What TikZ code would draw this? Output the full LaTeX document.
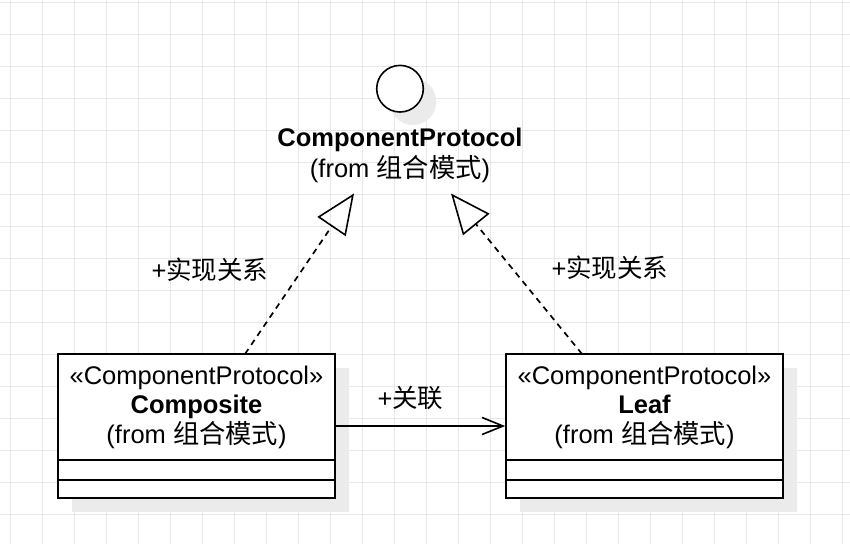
\documentclass[tikz,border=0pt]{standalone}
\usepackage{fontspec}
\setmainfont{Liberation Sans}
\newfontfamily\cjk{Noto Sans CJK SC}
\newfontfamily\cjks{Noto Sans CJK SC}[Scale=1.03]
\usetikzlibrary{arrows.meta}
\definecolor{gridc}{HTML}{E6E6E6}
\definecolor{shadowc}{HTML}{EBEBEB}
\begin{document}
\begin{tikzpicture}[x=1pt,y=-1pt,
  gridline/.style={draw=gridc, line width=1pt},
  txt/.style={font=\fontsize{25.5}{26}\selectfont, inner sep=0pt, anchor=base},
  lbl/.style={font=\fontsize{25.5}{26}\selectfont, inner sep=0pt, anchor=center},
  classbox/.style={draw=black, fill=white, line width=1.6pt, minimum width=277pt, minimum height=144pt, inner sep=0pt},
  shadowbox/.style={fill=shadowc, draw=none, minimum width=277pt, minimum height=144pt, inner sep=0pt},
  realize/.style={line width=1.7pt, dash pattern=on 6pt off 5pt, -{Triangle[open, length=40pt, width=34pt, line width=1.6pt]}},
  assoc/.style={line width=1.6pt, -{Straight Barb[length=21pt, width=17pt, line width=1.6pt]}}
]
\useasboundingbox (0,0) rectangle (850,544);
\fill[white] (0,0) rectangle (850,544);
% grid
\foreach \k in {0,...,26} { \draw[gridline] (10.3+32*\k,0) -- (10.3+32*\k,544); }
\foreach \k in {0,...,16} { \draw[gridline] (0,2+32*\k) -- (850,2+32*\k); }

% interface circle
\fill[shadowc] (413,101.7) circle (23.3);
\node[draw=black, fill=white, line width=1.6pt, circle, minimum size=46.6pt, inner sep=0pt] (iface) at (400,88.7) {};
\node[txt, font=\fontsize{25.5}{26}\selectfont\bfseries] (ifname) at (400,146) {ComponentProtocol};
\node[txt] (iffrom) at (400,177) {(from {\cjks 组合模式})};

% shadows
\node[shadowbox] (compsh) at (210,439.5) {};
\node[shadowbox] (leafsh) at (658,439.5) {};

% Composite class
\node[classbox] (comp) at (196.5,426) {};
\draw[line width=1.6pt] (comp.west |- 0,460) -- (comp.east |- 0,460);
\draw[line width=1.6pt] (comp.west |- 0,480) -- (comp.east |- 0,480);
\node[txt] (compst) at (196.5,384) {«ComponentProtocol»};
\node[txt, font=\fontsize{25.5}{26}\selectfont\bfseries] (compname) at (196.5,413.5) {Composite};
\node[txt] (compfrom) at (196.5,443) {(from {\cjks 组合模式})};

% Leaf class
\node[classbox] (leaf) at (644.5,426) {};
\draw[line width=1.6pt] (leaf.west |- 0,460) -- (leaf.east |- 0,460);
\draw[line width=1.6pt] (leaf.west |- 0,480) -- (leaf.east |- 0,480);
\node[txt] (leafst) at (644.5,384) {«ComponentProtocol»};
\node[txt, font=\fontsize{25.5}{26}\selectfont\bfseries] (leafname) at (644.5,413.5) {Leaf};
\node[txt] (leaffrom) at (644.5,443) {(from {\cjks 组合模式})};

% connectors
\coordinate (srcL) at (245,354);
\coordinate (tipL) at (354,193.5);
\coordinate (srcR) at (582,354);
\coordinate (tipR) at (451,193.5);
\draw[realize] (srcL) -- (tipL);
\draw[realize] (srcR) -- (tipR);
\draw[assoc] (comp.east |- 0,426) -- (leaf.west |- 0,426);

% labels
\node[lbl] (lblL) at (210,270) {+{\cjk 实现关系}};
\node[lbl] (lblR) at (610,267.5) {+{\cjk 实现关系}};
\node[lbl] (lblA) at (410.5,398) {+{\cjk 关联}};
\end{tikzpicture}
\end{document}
